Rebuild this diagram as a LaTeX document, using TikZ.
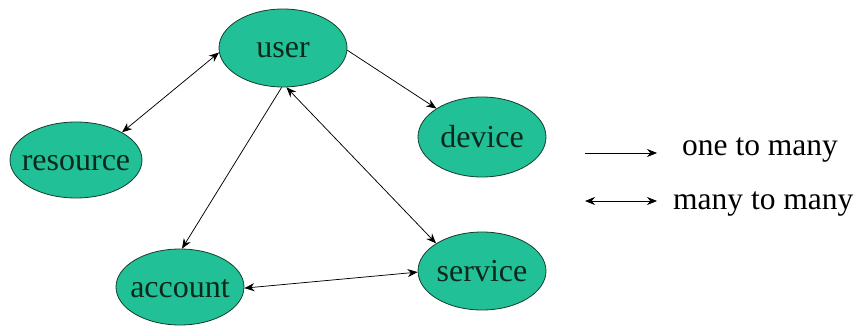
\documentclass[tikz,border=0pt]{standalone}
\usepackage{fontspec}
\setmainfont{Liberation Serif}
\usetikzlibrary{shapes.geometric,arrows.meta}

\definecolor{entityfill}{RGB}{34,192,150}
\definecolor{entityline}{RGB}{20,60,45}
\definecolor{entitytext}{RGB}{12,40,28}

\tikzset{
  entity/.style={ellipse, draw=entityline, line width=0.8pt, fill=entityfill,
    minimum width=128pt, minimum height=78pt, inner xsep=-30pt, inner ysep=0pt,
    text=entitytext, font=\fontsize{32}{38}\selectfont,
    text height=26pt, text depth=6pt},
  rel/.style={line width=0.75pt, draw=black},
  tip/.tip={Stealth[length=10pt,width=8pt]},
  onemany/.style={rel, -tip},
  manymany/.style={rel, tip-tip},
  legendtext/.style={font=\fontsize{31.5}{38}\selectfont, anchor=base west, inner sep=0pt}
}

\begin{document}
\begin{tikzpicture}[x=1pt, y=-1pt]
  \useasboundingbox (0,0) rectangle (858,326);

  % entities
  \node[entity] (user)     at (283,48)  {user};
  \node[entity, minimum width=132pt, minimum height=76pt] (resource) at (76,160) {resource};
  \node[entity, minimum height=80pt] (device)   at (482,137) {device};
  \node[entity, minimum height=76pt] (account)  at (180,287) {account};
  \node[entity] (service)  at (482,271) {service};

  % relationships
  \draw[manymany] (user.184) -- (resource.31);
  \draw[onemany]  (user.358) -- (device.148);
  \draw[onemany]  (user.268) -- (account.87);
  \draw[manymany] (user.275) -- (service.149);
  \draw[manymany] (account.359) -- (service.181);

  % legend
  \coordinate (oa) at (585,153);
  \coordinate (ob) at (657,153);
  \coordinate (ma) at (585,201);
  \coordinate (mb) at (657,201);
  \draw[onemany]  (oa) -- (ob);
  \draw[manymany] (ma) -- (mb);
  \node[legendtext] (onelbl)  at (682,155) {one to many};
  \node[legendtext] (manylbl) at (673,209) {many to many};
\end{tikzpicture}
\end{document}
